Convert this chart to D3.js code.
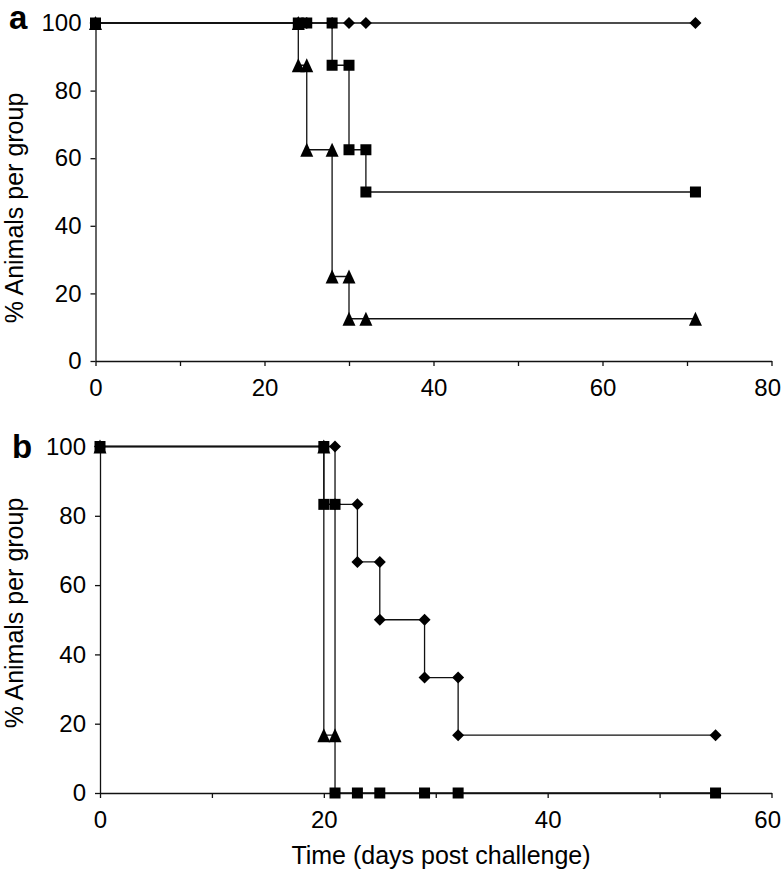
<!DOCTYPE html>
<html>
<head>
<meta charset="utf-8">
<script src="https://cdn.jsdelivr.net/npm/d3@7"></script>
<style>
  body { margin: 0; background: #fff; }
  text { font-family: "Liberation Sans", Arial, Helvetica, sans-serif; fill: #000; }
</style>
</head>
<body>
<div id="chart"></div>
<script>
// panel a : survival, days 0-80
var aDiamondDays = [0, 24, 25, 28, 30, 32, 71];
var aDiamondPct  = [100, 100, 100, 100, 100, 100, 100];
var aSquareDays  = [0, 24, 25, 28, 28, 30, 30, 32, 32, 71];
var aSquarePct   = [100, 100, 100, 100, 87.5, 87.5, 62.5, 62.5, 50, 50];
var aTriangleDays = [0, 24, 24, 25, 25, 28, 28, 30, 30, 32, 71];
var aTrianglePct  = [100, 100, 87.5, 87.5, 62.5, 62.5, 25, 25, 12.5, 12.5, 12.5];

// panel b : survival, days 0-60
var bDiamondDays = [0, 20, 21, 21, 23, 23, 25, 25, 29, 29, 32, 32, 55];
var bDiamondPct  = [100, 100, 100, 83.3, 83.3, 66.7, 66.7, 50, 50, 33.3, 33.3, 16.7, 16.7];
var bSquareDays  = [0, 20, 20, 21, 21, 23, 25, 29, 32, 55];
var bSquarePct   = [100, 100, 83.3, 83.3, 0, 0, 0, 0, 0, 0];
var bTriangleDays = [0, 20, 20, 21];
var bTrianglePct  = [100, 100, 16.7, 16.7];

var yTicks = [0, 20, 40, 60, 80, 100];
var aXTicks = [0, 10, 20, 30, 40, 50, 60, 70, 80];
var bXTicks = [0, 10, 20, 30, 40, 50, 60];

var yTitle = "% Animals per group";
var xTitle = "Time (days post challenge)";

window.onload = function() {
  var svg = d3.select("#chart")
              .append("svg")
              .attr("width", 783)
              .attr("height", 871);

  drawPanel(svg, {
    label: "a", labelX: 9, labelY: 29,
    xMax: 80, xTicks: aXTicks, xRange: [95.5, 771.5], yRange: [361, 23],
    titleY: 208,
    series: [
      { shape: "triangle", days: aTriangleDays, pct: aTrianglePct },
      { shape: "diamond", days: aDiamondDays, pct: aDiamondPct },
      { shape: "square", days: aSquareDays, pct: aSquarePct }
    ]
  });

  drawPanel(svg, {
    label: "b", labelX: 12, labelY: 458,
    xMax: 60, xTicks: bXTicks, xRange: [100, 771.5], yRange: [793, 446.5],
    titleY: 613,
    series: [
      { shape: "triangle", days: bTriangleDays, pct: bTrianglePct },
      { shape: "diamond", days: bDiamondDays, pct: bDiamondPct },
      { shape: "square", days: bSquareDays, pct: bSquarePct }
    ]
  });

  // x axis title only under panel b
  svg.append("text")
     .attr("x", 441)
     .attr("y", 864)
     .attr("text-anchor", "middle")
     .style("font-size", "25px")
     .text(xTitle);
};

// marker outlines, centred on their bounding box
function markerPath(shape) {
  if (shape == "square") {
    return "M-5.5,-5.5H5.5V5.5H-5.5Z";
  } else if (shape == "diamond") {
    return "M0,-6L6,0L0,6L-6,0Z";
  }
  return "M0,-7L6.5,7H-6.5Z";
}

function drawPanel(svg, p) {
  var x = d3.scaleLinear().domain([0, p.xMax]).range(p.xRange);
  var y = d3.scaleLinear().domain([0, 100]).range(p.yRange);
  var g = svg.append("g");

  // axes
  var xAxis = d3.axisBottom(x)
                .tickValues(p.xTicks)
                .tickSize(5)
                .tickSizeOuter(0)
                .tickPadding(13)
                .tickFormat(function(d) { return d % 20 == 0 ? d : ""; });
  var yAxis = d3.axisLeft(y)
                .tickValues(yTicks)
                .tickSize(5)
                .tickSizeOuter(0)
                .tickPadding(9);

  var gx = g.append("g")
            .attr("transform", "translate(0," + p.yRange[0] + ")")
            .call(xAxis);
  var gy = g.append("g")
            .attr("transform", "translate(" + p.xRange[0] + ",0)")
            .call(yAxis);

  [gx, gy].forEach(function(ax) {
    ax.selectAll("path, line").attr("stroke", "#111").attr("stroke-width", 1.3);
    ax.selectAll("text")
      .style("font-size", "24px")
      .style("font-family", "'Liberation Sans', Arial, sans-serif")
      .attr("fill", "#000");
  });

  // last x label is pulled in so it stays on the page
  gx.selectAll(".tick text")
    .filter(function(d) { return d == p.xMax; })
    .attr("text-anchor", "end")
    .attr("x", 9);

  // step lines
  var line = d3.line()
               .x(function(d) { return x(d[0]); })
               .y(function(d) { return y(d[1]); });

  p.series.forEach(function(s) {
    var pts = d3.zip(s.days, s.pct);
    g.append("path")
     .attr("d", line(pts))
     .attr("fill", "none")
     .attr("stroke", "#111")
     .attr("stroke-width", 1.3);
  });

  // markers
  p.series.forEach(function(s) {
    var pts = d3.zip(s.days, s.pct);
    g.selectAll(null)
     .data(pts)
     .enter()
     .append("path")
     .attr("d", markerPath(s.shape))
     .attr("transform", function(d) { return "translate(" + x(d[0]) + "," + y(d[1]) + ")"; })
     .attr("fill", "#000");
  });

  // panel letter
  svg.append("text")
     .attr("x", p.labelX)
     .attr("y", p.labelY)
     .style("font-size", "33px")
     .style("font-weight", "bold")
     .text(p.label);

  // y axis title
  svg.append("text")
     .attr("transform", "translate(23," + p.titleY + ") rotate(-90)")
     .attr("text-anchor", "middle")
     .style("font-size", "25px")
     .text(yTitle);
}
</script>
</body>
</html>
